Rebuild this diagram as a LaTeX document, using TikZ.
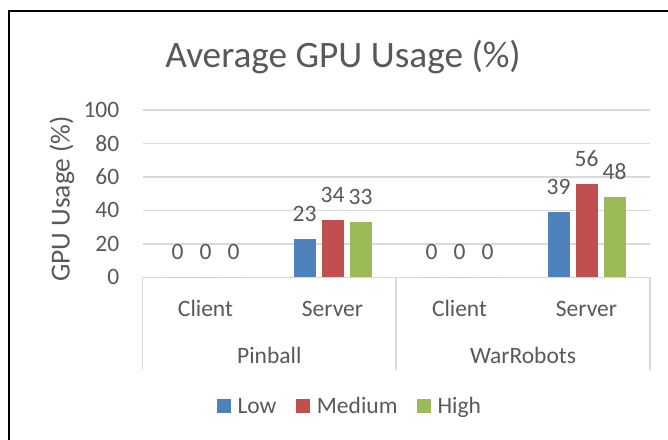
\documentclass[tikz,border=0pt]{standalone}
\usepackage{fontspec}
\setmainfont{Carlito}
\definecolor{txt}{HTML}{595959}
\definecolor{grid}{HTML}{D9D9D9}
\definecolor{cLow}{HTML}{4F81BD}
\definecolor{cMed}{HTML}{C0504D}
\definecolor{cHigh}{HTML}{9BBB59}
\tikzset{
  lbl/.style={text=txt, inner sep=0pt, font=\fontsize{23.5}{26}\selectfont},
  ttl/.style={text=txt, inner sep=0pt, font=\fontsize{37.3}{41}\selectfont},
  atl/.style={text=txt, inner sep=0pt, font=\fontsize{27.5}{31}\selectfont},
  gridline/.style={draw=grid, line width=1.4pt},
  legsq/.style={minimum size=14pt, inner sep=0pt, draw=none}
}
\begin{document}
\begin{tikzpicture}[x=1pt, y=-1pt]
\useasboundingbox (0,0) rectangle (668,439);
\fill[white] (0,0) rectangle (668,439);
\begin{scope}
\clip (0,0) rectangle (668,439);
\draw[black, line width=2pt] (9,11) rectangle (671,460);
\end{scope}
% title
\node[ttl] (title) at (343,57) {Average GPU Usage (\%)};
% y axis title
\node[atl, rotate=90] (ytitle) at (62,199) {GPU Usage (\%)};
% gridlines and tick labels
\foreach \v/\n in {0/t0,20/t20,40/t40,60/t60,80/t80,100/t100} {
  \coordinate (g\n) at (142.7,{277.3-1.675*\v});
  \coordinate (h\n) at (650,{277.3-1.675*\v});
  \draw[gridline] (g\n) -- (h\n);
  \node[lbl, anchor=east] (\n) at (119.5,{277.3-1.675*\v}) {\v};
}
% category axis box
\coordinate (c0t) at (142.7,277.3); \coordinate (c0b) at (142.7,370);
\coordinate (c1t) at (396,277.3);   \coordinate (c1b) at (396,370);
\coordinate (c2t) at (650,277.3);   \coordinate (c2b) at (650,370);
\draw[gridline] (c0t) -- (c0b);
\draw[gridline] (c1t) -- (c1b);
\draw[gridline] (c2t) -- (c2b);
% category labels
\node[lbl, anchor=base] (cat1) at (205.5,316.5) {Client};
\node[lbl, anchor=base] (cat2) at (332.5,316.5) {Server};
\node[lbl, anchor=base] (cat3) at (459.5,316.5) {Client};
\node[lbl, anchor=base] (cat4) at (586.5,316.5) {Server};
\node[lbl, anchor=base] (grp1) at (269.3,363.5) {Pinball};
\node[lbl, anchor=base] (grp2) at (523,363.5) {WarRobots};
% bars and data labels
\foreach \cx/\a/\b/\c/\k in {205.5/0/0/0/p1, 332.5/23/34/33/p2, 459.5/0/0/0/w1, 586.5/39/56/48/w2} {
  \fill[cLow]  ({\cx-28-11},277.3) rectangle ({\cx-28+11},{277.3-1.675*\a});
  \fill[cMed]  ({\cx-11},277.3)    rectangle ({\cx+11},{277.3-1.675*\b});
  \fill[cHigh] ({\cx+28-11},277.3) rectangle ({\cx+28+11},{277.3-1.675*\c});
  \node[lbl] (\k a) at ({\cx-28},{277.3-1.675*\a-25}) {\a};
  \node[lbl] (\k b) at ({\cx},{277.3-1.675*\b-25}) {\b};
  \node[lbl] (\k c) at ({\cx+28},{277.3-1.675*\c-25}) {\c};
}
% legend
\node[legsq, fill=cLow]  (lsq1) at (224.2,406) {};
\node[lbl, anchor=base west]  (ltx1) at (237.3,413.5) {Low};
\node[legsq, fill=cMed]  (lsq2) at (303,406) {};
\node[lbl, anchor=base west]  (ltx2) at (316.7,413.5) {Medium};
\node[legsq, fill=cHigh] (lsq3) at (424.3,406) {};
\node[lbl, anchor=base west]  (ltx3) at (437.3,413.5) {High};
\end{tikzpicture}
\end{document}
